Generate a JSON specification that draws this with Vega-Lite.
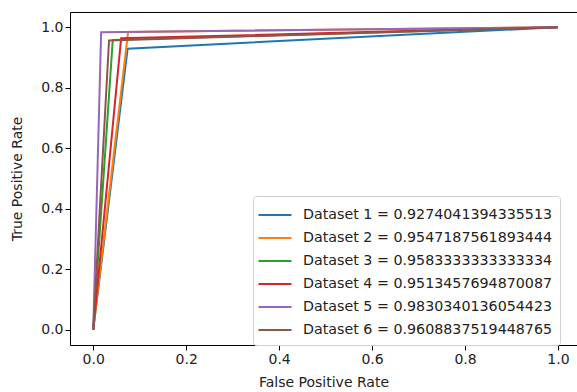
{
  "$schema": "https://vega.github.io/schema/vega-lite/v6.json",
  "autosize": "none",
  "width": 507,
  "height": 333,
  "padding": {"left": 70, "top": 12, "right": 0, "bottom": 47},
  "background": "white",
  "config": {
    "font": "DejaVu Sans",
    "view": {"stroke": "black", "strokeWidth": 1},
    "axis": {"grid": false, "domain": false, "tickColor": "black", "tickSize": 5, "labelColor": "#222", "labelFontSize": 14, "titleFontSize": 14, "titleFontWeight": "normal", "titleColor": "#222", "labelFont": "DejaVu Sans", "titleFont": "DejaVu Sans"}
  },
  "data": {"values": [
    {"label": "Dataset 1 = 0.9274041394335513", "o": 0, "fpr": 0, "tpr": 0},
    {"label": "Dataset 1 = 0.9274041394335513", "o": 1, "fpr": 0.074, "tpr": 0.929},
    {"label": "Dataset 1 = 0.9274041394335513", "o": 2, "fpr": 1, "tpr": 1},
    {"label": "Dataset 2 = 0.9547187561893444", "o": 0, "fpr": 0, "tpr": 0},
    {"label": "Dataset 2 = 0.9547187561893444", "o": 1, "fpr": 0.075, "tpr": 0.984},
    {"label": "Dataset 2 = 0.9547187561893444", "o": 2, "fpr": 1, "tpr": 1},
    {"label": "Dataset 3 = 0.9583333333333334", "o": 0, "fpr": 0, "tpr": 0},
    {"label": "Dataset 3 = 0.9583333333333334", "o": 1, "fpr": 0.042, "tpr": 0.958},
    {"label": "Dataset 3 = 0.9583333333333334", "o": 2, "fpr": 1, "tpr": 1},
    {"label": "Dataset 4 = 0.9513457694870087", "o": 0, "fpr": 0, "tpr": 0},
    {"label": "Dataset 4 = 0.9513457694870087", "o": 1, "fpr": 0.06, "tpr": 0.963},
    {"label": "Dataset 4 = 0.9513457694870087", "o": 2, "fpr": 1, "tpr": 1},
    {"label": "Dataset 5 = 0.9830340136054423", "o": 0, "fpr": 0, "tpr": 0},
    {"label": "Dataset 5 = 0.9830340136054423", "o": 1, "fpr": 0.017, "tpr": 0.983},
    {"label": "Dataset 5 = 0.9830340136054423", "o": 2, "fpr": 1, "tpr": 1},
    {"label": "Dataset 6 = 0.9608837519448765", "o": 0, "fpr": 0, "tpr": 0},
    {"label": "Dataset 6 = 0.9608837519448765", "o": 1, "fpr": 0.034, "tpr": 0.956},
    {"label": "Dataset 6 = 0.9608837519448765", "o": 2, "fpr": 1, "tpr": 1}
  ]},
  "mark": {"type": "line", "strokeWidth": 2, "clip": true},
  "encoding": {
    "x": {"field": "fpr", "type": "quantitative", "scale": {"domain": [-0.05, 1.041], "nice": false, "zero": false}, "axis": {"values": [0, 0.2, 0.4, 0.6, 0.8, 1.0], "format": ".1f", "title": "False Positive Rate", "titlePadding": 9}},
    "y": {"field": "tpr", "type": "quantitative", "scale": {"domain": [-0.05, 1.05], "nice": false, "zero": false}, "axis": {"values": [0, 0.2, 0.4, 0.6, 0.8, 1.0], "format": ".1f", "title": "True Positive Rate", "titlePadding": 16}},
    "order": {"field": "o"},
    "color": {
      "field": "label", "type": "nominal",
      "scale": {"range": ["#1f77b4", "#ff7f0e", "#2ca02c", "#d62728", "#9467bd", "#8c564b"]},
      "legend": {
        "title": null, "orient": "none", "legendX": 183, "legendY": 184,
        "fillColor": "white", "strokeColor": "#d0d0d0", "cornerRadius": 3, "padding": 7,
        "symbolType": "M-1.5,0H1.5", "symbolSize": 484, "symbolStrokeWidth": 2,
        "labelFontSize": 14.25, "labelColor": "#222", "labelFont": "DejaVu Sans", "labelLimit": 400, "rowPadding": 3, "labelOffset": 16, "symbolOffset": 3
      }
    }
  }
}
